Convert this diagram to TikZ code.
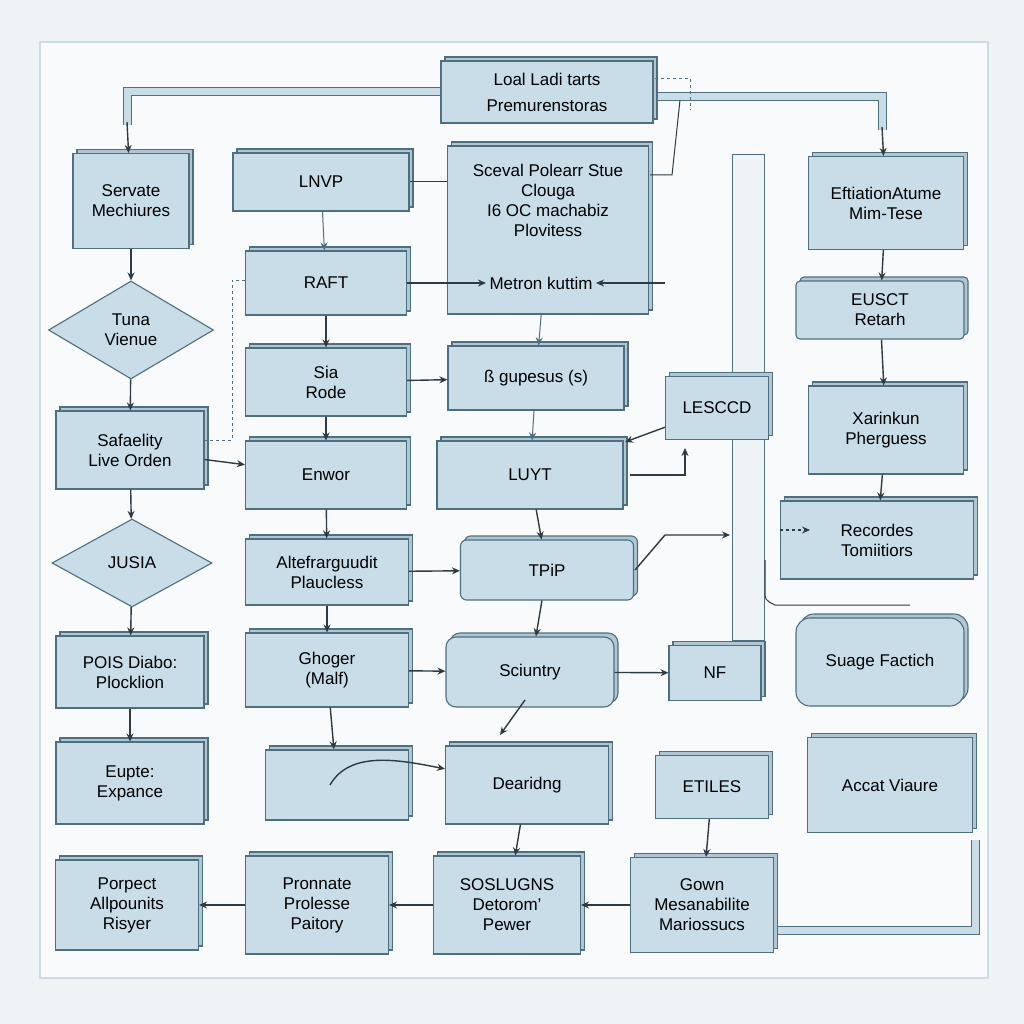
\documentclass[tikz,border=0pt]{standalone}
\usepackage{fontspec}
\setmainfont{Liberation Sans}
\usetikzlibrary{shapes.geometric,shadows,arrows.meta}
\definecolor{bg}{HTML}{EEF3F6}
\definecolor{bx}{HTML}{C8DDE8}
\definecolor{ed}{HTML}{4F6E80}
\definecolor{pipe}{HTML}{C9DDE8}
\definecolor{ln}{HTML}{2E3B44}
\begin{document}
\begin{tikzpicture}[x=1pt,y=-1pt,
  b/.style={draw=ed,fill=bx,line width=1.1pt,align=center,font=\fontsize{17}{20}\selectfont,inner sep=2pt,
    copy shadow={shadow xshift=4pt,shadow yshift=4pt,fill=bx!80!ed,draw=ed}},
  d/.style={diamond,draw=ed,fill=bx,line width=1.1pt,align=center,font=\fontsize{17}{20}\selectfont,aspect=1.7,inner sep=1pt},
  a/.style={draw=ln,line width=1.4pt,-{Stealth[length=8pt,width=7pt]}},
  p/.style={draw=ed,line width=9pt},
  pi/.style={draw=pipe,line width=7pt}]
\useasboundingbox (0,0) rectangle (1024,1024);
\fill[bg] (0,0) rectangle (1024,1024);
\draw[draw=pipe,line width=2pt,fill=white!60!bg] (40,42) rectangle (988,978);
% pipes
\draw[p] (440,92) -- (127,92) -- (127,125);
\draw[pi] (440,92) -- (127,92) -- (127,125);
\draw[p] (655,97) -- (882,97) -- (882,130);
\draw[pi] (655,97) -- (882,97) -- (882,130);
\draw[draw=ed,line width=1pt,fill=bg] (732,155) rectangle (764,640);
\draw[p] (778,930) -- (975,930) -- (975,840);
\draw[pi] (778,930) -- (975,930) -- (975,840);
% nodes
\node[b,minimum width=212,minimum height=62] (top) at (547,92) {Loal Ladi tarts\\[6pt]Premurenstoras};
\node[b,minimum width=116,minimum height=95] (sm) at (131,201) {Servate\\Mechiures};
\node[d,minimum width=165,minimum height=98] (tv) at (131,330) {Tuna\\Vienue};
\node[b,minimum width=148,minimum height=78] (sl) at (130,450) {Safaelity\\Live Orden};
\node[d,minimum width=160,minimum height=88] (ju) at (132,563) {JUSIA};
\node[b,minimum width=148,minimum height=72] (po) at (130,672) {POIS Diabo:\\Plocklion};
\node[b,minimum width=148,minimum height=82] (eu) at (130,783) {Eupte:\\Expance};
\node[b,minimum width=143,minimum height=90] (pa) at (127,905) {Porpect\\Allpounits\\Risyer};
\node[b,minimum width=176,minimum height=58] (ln) at (321,182) {LNVP};
\node[b,minimum width=161,minimum height=64] (ra) at (326,283) {RAFT};
\node[b,minimum width=161,minimum height=68] (sr) at (326,382) {Sia\\Rode};
\node[b,minimum width=161,minimum height=68] (en) at (326,475) {Enwor};
\node[b,minimum width=163,minimum height=66] (al) at (327,572) {Altefrarguudit\\Plaucless};
\node[b,minimum width=163,minimum height=74] (gh) at (327,670) {Ghoger\\(Malf)};
\node[b,minimum width=143,minimum height=70] (wv) at (337,785) {};
\node[b,minimum width=143,minimum height=98] (pp) at (317,905) {Pronnate\\Prolesse\\Paitory};
\node[b,minimum width=201,minimum height=168] (sc) at (548,230) {};
\node[align=center,font=\fontsize{17}{20}\selectfont] at (548,200) {Sceval Polearr Stue\\Clouga\\I6 OC machabiz\\Plovitess};
\node[font=\fontsize{17}{20}\selectfont] (me) at (541,283) {Metron kuttim};
\node[b,minimum width=176,minimum height=64] (bs) at (536,378) {ß gupesus (s)};
\node[b,minimum width=186,minimum height=68] (lu) at (530,475) {LUYT};
\node[b,minimum width=173,minimum height=60,rounded corners=6pt] (tp) at (547,570) {TPiP};
\node[b,minimum width=168,minimum height=70,rounded corners=10pt] (su) at (530,672) {Sciuntry};
\node[b,minimum width=163,minimum height=78] (de) at (527,785) {Dearidng};
\node[b,minimum width=147,minimum height=98] (so) at (507,905) {SOSLUGNS\\Detorom'\\Pewer};
\node[b,minimum width=103,minimum height=63] (le) at (717,408) {LESCCD};
\node[b,minimum width=92,minimum height=55] (nf) at (715,673) {NF};
\node[b,minimum width=113,minimum height=63] (et) at (712,787) {ETILES};
\node[b,minimum width=143,minimum height=95] (gw) at (702,905) {Gown\\Mesanabilite\\Mariossucs};
\node[b,minimum width=155,minimum height=93] (ef) at (886,203) {EftiationAtume\\Mim-Tese};
\node[b,minimum width=168,minimum height=58,rounded corners=4pt] (ec) at (880,310) {EUSCT\\Retarh};
\node[b,minimum width=155,minimum height=88] (xa) at (886,430) {Xarinkun\\Pherguess};
\node[b,minimum width=193,minimum height=78] (rc) at (877,540) {Recordes\\Tomiitiors};
\node[b,minimum width=168,minimum height=88,rounded corners=14pt] (sf) at (880,662) {Suage Factich};
\node[b,minimum width=165,minimum height=95] (ac) at (890,785) {Accat Viaure};
% arrows
\coordinate (pl) at (127,122); \coordinate (pr) at (882,127);
\draw[a] (pl) -- (sm);
\draw[a] (pr) -- (ef);
\draw[a] (sm) -- (tv); \draw[a] (tv) -- (sl); \draw[a] (sl) -- (ju);
\draw[a] (ju) -- (po); \draw[a] (po) -- (eu);
\draw[a] (sl) -- (en);
\draw[a,draw=ed,line width=1pt] (ln) -- (ra);
\draw[a] (ra) -- (sr); \draw[a] (sr) -- (en); \draw[a] (en) -- (al);
\draw[a] (al) -- (gh); \draw[a] (gh) -- (wv);
\draw[a] (ra) -- (me); \draw[a] (665,283) -- (me);
\draw[a] (sr) -- (bs);
\draw[a,draw=ed,line width=1pt] (bs) -- (lu);
\draw[a,draw=ed,line width=1pt] (sc) -- (bs);
\draw[a] (lu) -- (tp); \draw[a] (tp) -- (su);
\draw[a] (al) -- (tp);
\draw[a] (gh) -- (su);
\draw[a] (su) -- (nf);
\draw[a] (le) -- (625,442);
\draw[a] (630,475) -- (685,475) -- (685,448);
\draw[a] (635,570) -- (665,535) -- (730,535);
\draw[a] (525,700) -- (500,735);
\draw[a] (330,785) .. controls (350,750) and (400,760) .. (de);
\draw[a] (de) -- (so);
\draw[a] (so) -- (pp); \draw[a] (pp) -- (pa); \draw[a] (gw) -- (so);
\draw[a] (et) -- (gw);
\draw[a] (ef) -- (ec); \draw[a] (ec) -- (xa); \draw[a] (xa) -- (rc);
\draw[a,dashed] (780,530) -- (810,530);
\draw[ln,line width=1pt] (765,560) -- (765,590) .. controls (765,600) .. (775,605) -- (910,605);
\draw[ln,line width=1pt] (410,182) -- (447,182);
\draw[ln,line width=1pt] (680,100) -- (672,175) -- (650,175);
\draw[ed,dashed,line width=0.8pt] (655,78) -- (690,78) -- (690,110);
\draw[ed,dashed,line width=0.8pt] (245,280) -- (232,280) -- (232,440) -- (205,440);
\end{tikzpicture}
\end{document}
